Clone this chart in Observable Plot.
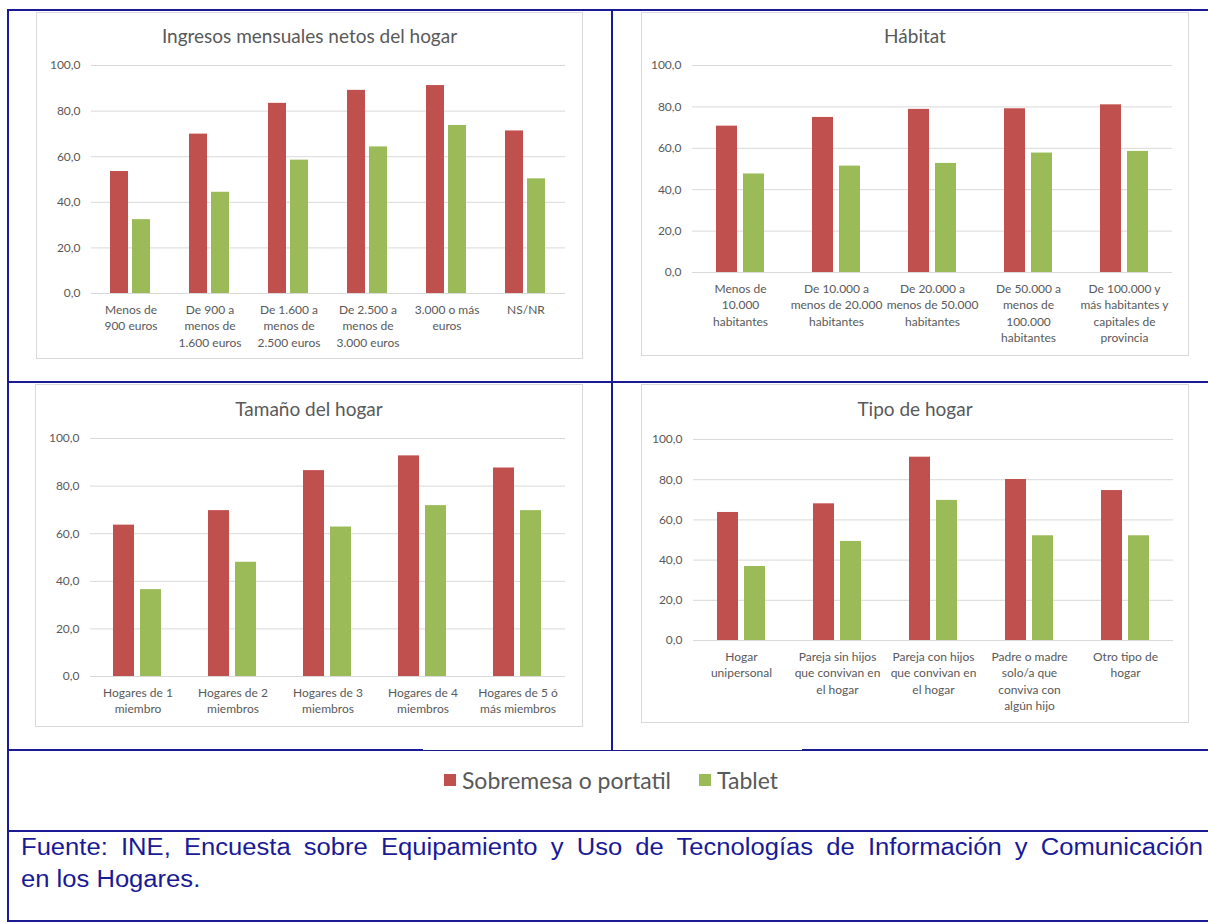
<!DOCTYPE html>
<html>
<head>
<meta charset="utf-8">
<script src="https://cdn.jsdelivr.net/npm/d3@7"></script>
<script src="https://cdn.jsdelivr.net/npm/@observablehq/plot@0.6"></script>
<style>
  body { margin: 0; background: #ffffff; }
  #page { position: relative; width: 1208px; height: 923px; overflow: hidden; font-family: Lato, "Open Sans", sans-serif; background: #fff; }
  .ln { position: absolute; background: #1a1a96; }
  .box { position: absolute; border: 1px solid #d9d9d9; box-sizing: border-box; }
  .title { position: absolute; text-align: center; color: #595959; font-size: 19px; height: 24px; line-height: 24px; }
  .chart { position: absolute; }
  .legend { position: absolute; left: 7px; width: 1208px; top: 768px; height: 24px; display: flex; justify-content: center; align-items: center; color: #595959; font-size: 23px; }
  .legend .sw { display: inline-block; width: 12px; height: 12px; margin-right: 6px; }
  .legend .item { display: inline-flex; align-items: center; margin: 0 14px; }
  .source { position: absolute; left: 21px; width: 1182px; font-family: "Liberation Sans", Arial, sans-serif; font-size: 25.6px; line-height: 35px; height: 35px; color: #1a1a96; white-space: nowrap; transform: scaleY(0.91); transform-origin: 0 0; }
  .source.j { text-align: justify; text-align-last: justify; }
</style>
</head>
<body>
<div id="page"></div>
<script>
// ---- data ----
const series = ["Sobremesa o portatil", "Tablet"];
const seriesColors = ["#C0504D", "#9BBB59"];
const yTicks = [0, 20, 40, 60, 80, 100];

const ingresosTitle = "Ingresos mensuales netos del hogar";
const ingresosCats = ["Menos de\n900 euros", "De 900 a\nmenos de\n1.600 euros", "De 1.600 a\nmenos de\n2.500 euros", "De 2.500 a\nmenos de\n3.000 euros", "3.000 o más\neuros", "NS/NR"];
const ingresosSobremesa = [53.5, 69.9, 83.4, 89.1, 91.2, 71.3];
const ingresosTablet = [32.4, 44.4, 58.5, 64.3, 73.7, 50.3];

const habitatTitle = "Hábitat";
const habitatCats = ["Menos de\n10.000\nhabitantes", "De 10.000 a\nmenos de 20.000\nhabitantes", "De 20.000 a\nmenos de 50.000\nhabitantes", "De 50.000 a\nmenos de\n100.000\nhabitantes", "De 100.000 y\nmás habitantes y\ncapitales de\nprovincia"];
const habitatSobremesa = [70.7, 74.9, 78.8, 79.1, 81.0];
const habitatTablet = [47.6, 51.4, 52.7, 57.7, 58.5];

const tamanoTitle = "Tamaño del hogar";
const tamanoCats = ["Hogares de 1\nmiembro", "Hogares de 2\nmiembros", "Hogares de 3\nmiembros", "Hogares de 4\nmiembros", "Hogares de 5 ó\nmás miembros"];
const tamanoSobremesa = [63.6, 69.7, 86.5, 92.7, 87.6];
const tamanoTablet = [36.5, 48.0, 62.8, 71.8, 69.7];

const tipoTitle = "Tipo de hogar";
const tipoCats = ["Hogar\nunipersonal", "Pareja sin hijos\nque convivan en\nel hogar", "Pareja con hijos\nque convivan en\nel hogar", "Padre o madre\nsolo/a que\nconviva con\nalgún hijo", "Otro tipo de\nhogar"];
const tipoSobremesa = [63.7, 68.0, 91.2, 80.1, 74.6];
const tipoTablet = [36.8, 49.3, 69.7, 52.1, 52.1];

const sourceLines = ["Fuente: INE, Encuesta sobre Equipamiento y Uso de Tecnologías de Información y Comunicación", "en los Hogares."];

// ---- layout ----
const page = document.getElementById("page");
function el(cls, css, text) {
  const d = document.createElement("div");
  d.className = cls;
  Object.assign(d.style, css);
  if (text != null) d.textContent = text;
  page.appendChild(d);
  return d;
}

const panels = [
  { title: ingresosTitle, cats: ingresosCats, a: ingresosSobremesa, b: ingresosTablet,
    box: [36, 12, 547, 347], titleY: 36, svgTop: 50, svgH: 309, m: [15, 16, 66, 52], pad: [0.18, 0.88] },
  { title: habitatTitle, cats: habitatCats, a: habitatSobremesa, b: habitatTablet,
    box: [641, 12, 548, 344], titleY: 36, svgTop: 50, svgH: 306, m: [15, 17, 84, 50], pad: [0.22, 0.86] },
  { title: tamanoTitle, cats: tamanoCats, a: tamanoSobremesa, b: tamanoTablet,
    box: [35, 384, 548, 343], titleY: 409, svgTop: 423, svgH: 304, m: [15, 16, 51, 53], pad: [0.22, 0.86] },
  { title: tipoTitle, cats: tipoCats, a: tipoSobremesa, b: tipoTablet,
    box: [641, 384, 548, 339], titleY: 409, svgTop: 423, svgH: 300, m: [16, 16, 83, 52], pad: [0.22, 0.86] }
];

for (const p of panels) {
  const [bx, by, bw, bh] = p.box;
  el("box", { left: bx + "px", top: by + "px", width: bw + "px", height: bh + "px" });
  el("title", { left: bx + "px", width: bw + "px", top: (p.titleY - 12) + "px" }, p.title);
  const rows = p.cats.flatMap((c, i) => [
    { cat: c, serie: series[0], value: p.a[i] },
    { cat: c, serie: series[1], value: p.b[i] }
  ]);
  const chart = Plot.plot({
    width: bw,
    height: p.svgH,
    marginTop: p.m[0], marginRight: p.m[1], marginBottom: p.m[2], marginLeft: p.m[3],
    style: { fontFamily: "Lato, sans-serif", fontSize: "12px", color: "#595959", background: "transparent" },
    fx: { domain: p.cats, padding: 0, label: null },
    x: { domain: series, paddingInner: p.pad[0], paddingOuter: p.pad[1], axis: null },
    y: { domain: [0, 100], label: null },
    color: { domain: series, range: seriesColors },
    marks: [
      Plot.ruleY(yTicks, { stroke: "#d9d9d9", strokeWidth: 1 }),
      Plot.barY(rows, { fx: "cat", x: "serie", y: "value", fill: "serie" }),
      Plot.axisY({ ticks: yTicks, tickSize: 0, tickPadding: 11, tickFormat: d => d.toFixed(1).replace(".", ","), fontSize: 12, label: null }),
      Plot.axisFx({ anchor: "bottom", tickSize: 0, tickPadding: 9, fontSize: 12, lineHeight: 1.36, label: null })
    ]
  });
  const holder = el("chart", { left: bx + "px", top: p.svgTop + "px" });
  holder.appendChild(chart);
}

// legend
const lg = el("legend", {});
series.forEach((s, i) => {
  const it = document.createElement("span");
  it.className = "item";
  const sw = document.createElement("span");
  sw.className = "sw";
  sw.style.background = seriesColors[i];
  it.appendChild(sw);
  it.appendChild(document.createTextNode(s));
  lg.appendChild(it);
});

// source (first line justified across the cell, second line left)
el("source j", { top: "831px" }, sourceLines[0]);
el("source", { top: "863px" }, sourceLines[1]);

// table borders
el("ln", { left: "7px", top: "9px", width: "1201px", height: "2px" });
el("ln", { left: "7px", top: "9px", width: "2px", height: "913px" });
el("ln", { left: "611px", top: "9px", width: "2px", height: "742px" });
el("ln", { left: "7px", top: "381px", width: "1201px", height: "2px" });
el("ln", { left: "7px", top: "749px", width: "416px", height: "2px" });
el("ln", { left: "423px", top: "750px", width: "379px", height: "1px" });
el("ln", { left: "802px", top: "749px", width: "406px", height: "2px" });
el("ln", { left: "7px", top: "830px", width: "1201px", height: "2px" });
el("ln", { left: "7px", top: "920px", width: "1201px", height: "2px" });
</script>
</body>
</html>
